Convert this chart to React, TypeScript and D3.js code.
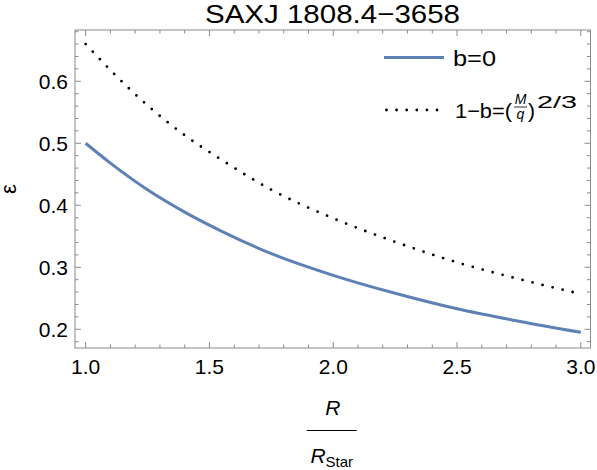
import React, { useEffect, useRef } from 'react';
import * as d3 from 'd3';

// R / R_Star sample points
const rValues = [1.0, 1.1, 1.25, 1.4, 1.55, 1.75, 2.0, 2.25, 2.5, 2.75, 3.0];
// b = 0
const epsB0 = [0.5, 0.468, 0.425, 0.389, 0.358, 0.322, 0.287, 0.258, 0.233, 0.213, 0.195];
// 1-b = (M/q)^(2/3)
const epsMq = [0.66, 0.618, 0.561, 0.513, 0.473, 0.425, 0.379, 0.341, 0.308, 0.281, 0.257];

const xMajor = [1.0, 1.5, 2.0, 2.5, 3.0];
const yMajor = [0.2, 0.3, 0.4, 0.5, 0.6];

const W = 597;
const H = 470;
const FONT = '"Liberation Sans", Arial, Helvetica, sans-serif';
const BLUE = '#5e81b5';
const FRAME = '#8a8a8a';

const App = () => {
  const ref = useRef<SVGSVGElement | null>(null);

  useEffect(() => {
    const svg = d3.select(ref.current);
    svg.selectAll('*').remove();

    const left = 75, right = 590.5, top = 30, bottom = 348;
    const x = d3.scaleLinear().domain([0.957, 3.039]).range([left, right]);
    const y = d3.scaleLinear().domain([0.1698, 0.6827]).range([bottom, top]);

    // title (reference glyphs are a bit wider than Liberation Sans)
    svg.append('text')
      .attr('x', 205)
      .attr('y', 23)
      .attr('font-family', FONT)
      .attr('font-size', 26)
      .attr('textLength', 255)
      .attr('lengthAdjust', 'spacingAndGlyphs')
      .text('SAXJ 1808.4\u22123658');

    // curves
    const pts = (vals: number[]) => rValues.map((r, i) => [r, vals[i]] as [number, number]);
    const line = d3.line<[number, number]>()
      .x((d) => x(d[0]))
      .y((d) => y(d[1]))
      .curve(d3.curveMonotoneX);

    svg.append('path')
      .attr('d', line(pts(epsMq)))
      .attr('fill', 'none')
      .attr('stroke', '#000')
      .attr('stroke-width', 2.8)
      .attr('stroke-linecap', 'round')
      .attr('stroke-dasharray', '0 10.3');

    svg.append('path')
      .attr('d', line(pts(epsB0)))
      .attr('fill', 'none')
      .attr('stroke', BLUE)
      .attr('stroke-width', 3);

    // frame
    svg.append('rect')
      .attr('x', left).attr('y', top)
      .attr('width', right - left).attr('height', bottom - top)
      .attr('fill', 'none')
      .attr('stroke', FRAME)
      .attr('stroke-width', 1);

    const ticks = svg.append('g').attr('stroke', FRAME).attr('stroke-width', 1);
    const xMinor = d3.range(10, 31).map((v) => v / 10);
    const yMinor = d3.range(9, 35).map((v) => v / 50);
    const isMajor = (v: number, list: number[]) => list.some((m) => Math.abs(m - v) < 1e-6);

    xMinor.forEach((v) => {
      const len = isMajor(v, xMajor) ? 6 : 3.5;
      ticks.append('line').attr('x1', x(v)).attr('x2', x(v)).attr('y1', bottom).attr('y2', bottom - len);
      ticks.append('line').attr('x1', x(v)).attr('x2', x(v)).attr('y1', top).attr('y2', top + len);
    });
    yMinor.forEach((v) => {
      const len = isMajor(v, yMajor) ? 6 : 3.5;
      ticks.append('line').attr('x1', left).attr('x2', left + len).attr('y1', y(v)).attr('y2', y(v));
      ticks.append('line').attr('x1', right).attr('x2', right - len).attr('y1', y(v)).attr('y2', y(v));
    });

    const fmt = d3.format('.1f');
    svg.append('g').selectAll('text').data(xMajor).enter().append('text')
      .attr('x', (d) => x(d))
      .attr('y', 373.5)
      .attr('text-anchor', 'middle')
      .attr('font-family', FONT)
      .attr('font-size', 21)
      .text((d) => fmt(d));

    svg.append('g').selectAll('text').data(yMajor).enter().append('text')
      .attr('x', 68)
      .attr('y', (d) => y(d) + 7.5)
      .attr('text-anchor', 'end')
      .attr('font-family', FONT)
      .attr('font-size', 21)
      .text((d) => fmt(d));

    // y label
    svg.append('text')
      .attr('transform', 'translate(15.5,' + (top + bottom) / 2 + ') rotate(-90)')
      .attr('text-anchor', 'middle')
      .attr('font-family', FONT)
      .attr('font-size', 22)
      .text('\u03b5');

    // x label R / R_Star
    const cx = (left + right) / 2 - 1;
    svg.append('text')
      .attr('x', cx + 1).attr('y', 415)
      .attr('text-anchor', 'middle')
      .attr('font-family', FONT)
      .attr('font-style', 'italic')
      .attr('font-size', 21)
      .text('R');
    svg.append('line')
      .attr('x1', cx - 25).attr('x2', cx + 25)
      .attr('y1', 430.5).attr('y2', 430.5)
      .attr('stroke', '#000').attr('stroke-width', 1.2);
    const den = svg.append('text')
      .attr('x', cx).attr('y', 463)
      .attr('text-anchor', 'middle')
      .attr('font-family', FONT)
      .attr('font-size', 21);
    den.append('tspan').attr('font-style', 'italic').text('R');
    den.append('tspan').attr('font-size', 15).attr('dy', 4).text('Star');

    // legend
    const lg = svg.append('g').attr('font-family', FONT);
    lg.append('line')
      .attr('x1', 384).attr('x2', 444).attr('y1', 57.5).attr('y2', 57.5)
      .attr('stroke', BLUE).attr('stroke-width', 3);
    lg.append('text').attr('x', 453).attr('y', 65.5).attr('font-size', 22)
      .attr('textLength', 43).attr('lengthAdjust', 'spacingAndGlyphs').text('b=0');

    lg.append('line')
      .attr('x1', 386.5).attr('x2', 440).attr('y1', 110).attr('y2', 110)
      .attr('stroke', '#000').attr('stroke-width', 2.8)
      .attr('stroke-linecap', 'round').attr('stroke-dasharray', '0 10.1');
    lg.append('text').attr('x', 455).attr('y', 118).attr('font-size', 21)
      .attr('textLength', 57).attr('lengthAdjust', 'spacingAndGlyphs').text('1\u2212b=(');
    const fx = 520.5;
    lg.append('text').attr('x', fx).attr('y', 103.5).attr('text-anchor', 'middle')
      .attr('font-size', 14).attr('font-style', 'italic').text('M');
    lg.append('line').attr('x1', fx - 6.5).attr('x2', fx + 6.5).attr('y1', 107).attr('y2', 107)
      .attr('stroke', '#000').attr('stroke-width', 0.8);
    lg.append('text').attr('x', fx).attr('y', 119).attr('text-anchor', 'middle')
      .attr('font-size', 14).attr('font-style', 'italic').text('q');
    lg.append('text').attr('x', 528).attr('y', 118).attr('font-size', 21).text(')');
    lg.append('text').attr('x', 537).attr('y', 108).attr('font-size', 17)
      .attr('textLength', 40).attr('lengthAdjust', 'spacingAndGlyphs').text('2/3');
  }, []);

  return (
    <svg
      ref={ref}
      width={W}
      height={H}
      style={{ position: 'absolute', left: 0, top: 0, background: '#fff' }}
    />
  );
};

export default App;
